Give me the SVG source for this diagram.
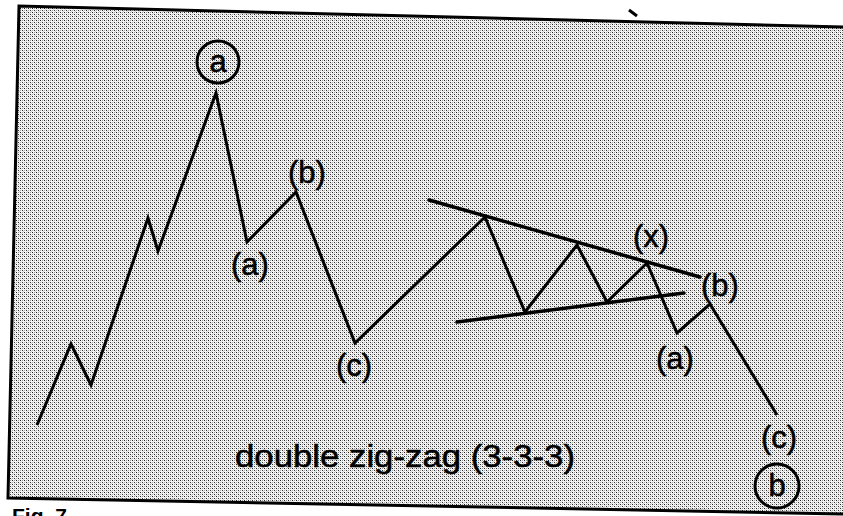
<svg xmlns="http://www.w3.org/2000/svg" width="843" height="516" viewBox="0 0 843 516">
<defs>
<pattern id="dots" width="4" height="4" patternUnits="userSpaceOnUse">
<rect width="4" height="4" fill="#f6f6f6"/>
<rect x="0" y="0" width="1" height="1" fill="#222"/>
<rect x="2" y="2" width="1" height="1" fill="#333"/>
<rect x="2" y="0" width="1" height="1" fill="#999"/>
<rect x="0" y="2" width="1" height="1" fill="#aaa"/>
<rect x="1" y="1" width="1" height="1" fill="#ddd"/>
<rect x="3" y="3" width="1" height="1" fill="#ccc"/>
</pattern>
</defs>
<style>
.wave{fill:none;stroke:#000;stroke-width:3;stroke-linejoin:miter;stroke-linecap:butt}
.trend{fill:none;stroke:#000;stroke-width:3.5;stroke-linecap:round}
.lbl{font-family:"Liberation Sans",Arial,sans-serif;font-size:31px;fill:#000;stroke:#000;stroke-width:0.5;text-anchor:middle}
.ring{fill:none;stroke:#000;stroke-width:3}
</style>
<rect width="843" height="516" fill="#fff"/>
<g id="frame">
<polygon points="19,6 843,27 843,514 8,498" fill="url(#dots)"/>
<polyline points="843,27 19,6 8,498 843,514" fill="none" stroke="#000" stroke-width="3"/>
<line x1="629" y1="10" x2="637" y2="16" stroke="#000" stroke-width="3"/>
</g>
<g id="connectors">
<polyline class="wave" points="37,425 71,344 91,385 148,218 158,251 216,93 247,242 296,192 355,343 485,217 525,312 577,245 607,302 647,263 677,333 710,304 777,415"/>
<line class="trend" x1="429" y1="200" x2="700" y2="277"/>
<line class="trend" x1="457" y1="322" x2="684" y2="293"/>
</g>
<g id="node-a-circled">
<circle class="ring" cx="218" cy="62" r="21"/>
<text class="lbl" x="218" y="72">a</text>
</g>
<g id="node-a1"><text class="lbl" x="250" y="275">(a)</text></g>
<g id="node-b1"><text class="lbl" x="307" y="183">(b)</text></g>
<g id="node-c1"><text class="lbl" x="354" y="376">(c)</text></g>
<g id="node-x"><text class="lbl" x="651" y="247">(x)</text></g>
<g id="node-b2"><text class="lbl" x="720" y="296">(b)</text></g>
<g id="node-a2"><text class="lbl" x="675" y="369">(a)</text></g>
<g id="node-c2"><text class="lbl" x="779" y="448">(c)</text></g>
<g id="node-b-circled">
<circle class="ring" cx="777" cy="486" r="22"/>
<text class="lbl" x="777" y="496">b</text>
</g>
<g id="title">
<text class="lbl" x="405" y="467" textLength="340" lengthAdjust="spacingAndGlyphs">double zig-zag (3-3-3)</text>
</g>
<g id="caption">
<text x="12" y="523" font-family="'Liberation Sans',Arial,sans-serif" font-size="21" font-weight="bold" fill="#000">Fig. 7</text>
</g>
</svg>
